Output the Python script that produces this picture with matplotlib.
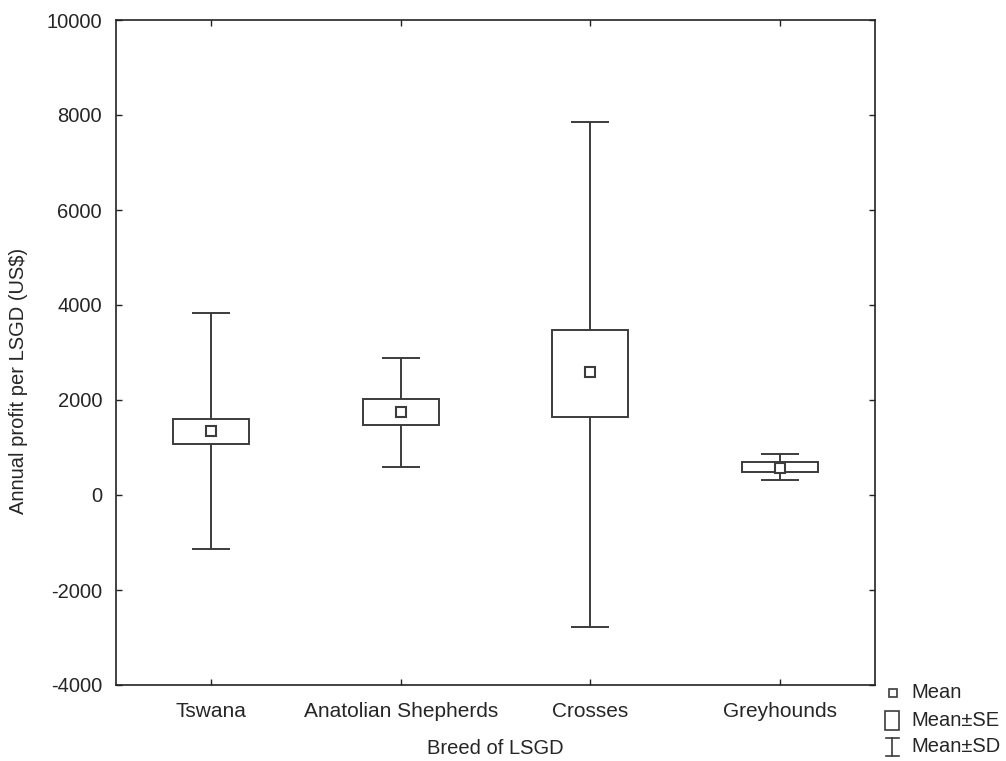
import matplotlib
matplotlib.use("Agg")
import matplotlib.pyplot as plt
from matplotlib.patches import Rectangle
from matplotlib.lines import Line2D

breeds = ["Tswana", "Anatolian Shepherds", "Crosses", "Greyhounds"]
means = [1350, 1740, 2580, 575]
se_low = [1080, 1467, 1640, 478]
se_high = [1600, 2015, 3480, 695]
sd_low = [-1130, 590, -2780, 316]
sd_high = [3825, 2890, 7850, 857]
yticks = [-4000, -2000, 0, 2000, 4000, 6000, 8000, 10000]

plt.rcParams['font.family'] = ['Liberation Sans', 'DejaVu Sans']
plt.rcParams['axes.unicode_minus'] = False
LC = '#3c3c3c'
TC = '#262626'
LW = 1.4
FS = 14.5

fig = plt.figure(figsize=(10.06, 7.61), dpi=100)
ax = fig.add_axes([116/1006, 1-685/761, (875-116)/1006, (685-20)/761])

box_w = 0.4
cap_w = 0.2
for i in range(len(breeds)):
    # whiskers (SD)
    ax.vlines(i, sd_low[i], se_low[i], color=LC, lw=LW, zorder=2)
    ax.vlines(i, se_high[i], sd_high[i], color=LC, lw=LW, zorder=2)
    ax.hlines([sd_low[i], sd_high[i]], i - cap_w/2, i + cap_w/2, color=LC, lw=LW, zorder=2)
    # SE box
    ax.add_patch(Rectangle((i - box_w/2, se_low[i]), box_w, se_high[i] - se_low[i],
                           facecolor='white', edgecolor=LC, lw=LW, zorder=3))
    # mean
    ax.plot(i, means[i], marker='s', ms=7, mfc='white', mec=LC, mew=1.5, zorder=4)

ax.set_xlim(-0.5, 3.5)
ax.set_ylim(-4000, 10000)
ax.set_yticks(yticks)
ax.set_xticks(range(len(breeds)))
ax.set_xticklabels(breeds, fontsize=15)
ax.tick_params(axis='both', direction='in', length=4, width=1, color='#222222',
               labelcolor=TC, top=True, right=True)
ax.tick_params(axis='y', pad=10, labelsize=FS)
ax.tick_params(axis='x', pad=12)
for s in ax.spines.values():
    s.set_color('#222222')
    s.set_linewidth(1.2)
ax.set_ylabel("Annual profit per LSGD (US$)", fontsize=FS, color=TC)
ax.set_xlabel("Breed of LSGD", fontsize=FS, color=TC)
ax.yaxis.set_label_coords(19/1006, 0.5, transform=fig.transFigure)
ax.xaxis.set_label_coords((116+875)/2/1006, 1-749/761, transform=fig.transFigure)
ax.xaxis.label.set_va('center')
ax.yaxis.label.set_va('center')

# legend glyphs (figure pixel coords -> fraction)
def fx(x):
    return x / 1006
def fy(y):
    return 1 - y / 761

fig.add_artist(Line2D([fx(893)], [fy(693)], marker='s', ms=5.5, mfc='white', mec=LC, mew=1.2,
                      transform=fig.transFigure))
fig.add_artist(Rectangle((fx(885), fy(730)), fx(899) - fx(885), fy(711) - fy(730),
                         facecolor='white', edgecolor=LC, lw=1.2, transform=fig.transFigure))
fig.add_artist(Line2D([fx(892), fx(892)], [fy(738), fy(756)], color=LC, lw=1.2, transform=fig.transFigure))
fig.add_artist(Line2D([fx(886), fx(899)], [fy(738), fy(738)], color=LC, lw=1.2, transform=fig.transFigure))
fig.add_artist(Line2D([fx(886), fx(899)], [fy(756), fy(756)], color=LC, lw=1.2, transform=fig.transFigure))
for txt, y in [("Mean", 693), ("Mean±SE", 720), ("Mean±SD", 747)]:
    fig.text(fx(911), fy(y), txt, fontsize=FS, color=TC, va='center', ha='left')

fig.savefig("out.png", dpi=100)
